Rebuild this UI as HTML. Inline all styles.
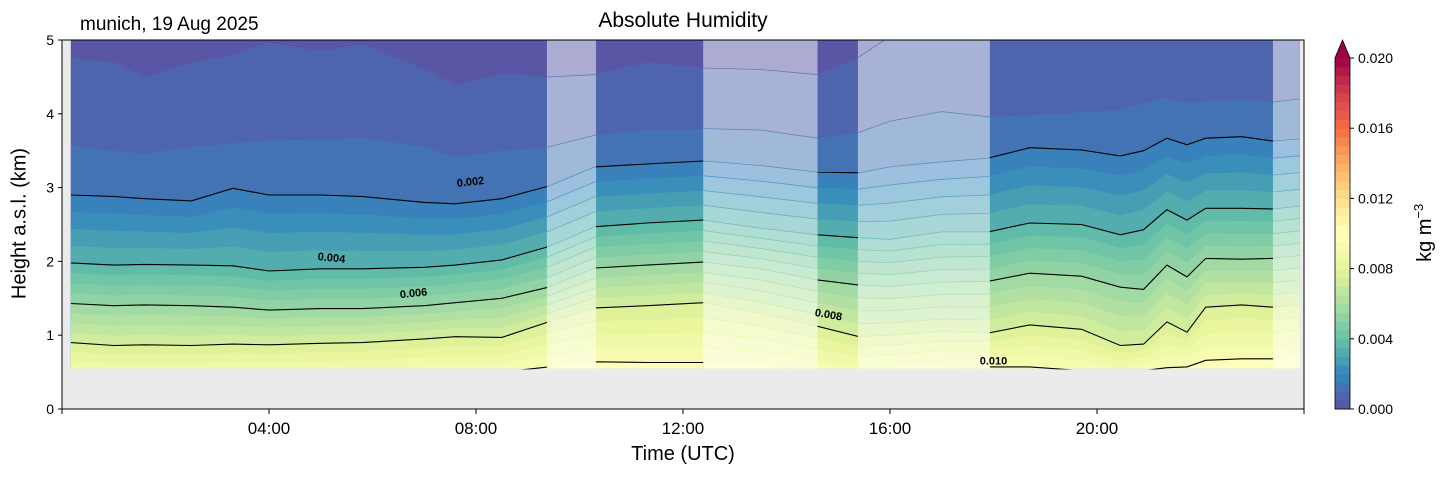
<!DOCTYPE html>
<html><head><meta charset="utf-8"><style>
body{margin:0;background:#fff;font-family:"Liberation Sans",sans-serif;}
svg text{font-family:"Liberation Sans",sans-serif;}
</style></head><body>
<svg id="c" width="1454" height="478" xmlns="http://www.w3.org/2000/svg"></svg>
<script>
const times=[0.17,1,1.6,2.5,3.3,4,5,5.8,7,7.6,8.5,9.4,10.3,11.3,12.4,13.5,14.6,15.4,16,17,17.9,18.7,19.7,20.45,20.9,21.35,21.74,22.1,22.8,23.4,23.92];
const h0005=[4.75,4.7,4.5,4.7,4.8,4.97,4.85,4.95,4.6,4.39,4.55,4.5,4.53,4.7,4.62,4.6,4.53,4.77,5.05,5.2,5.2,5.2,5.2,5.2,5.2,5.2,5.2,5.2,5.2,5.2,5.2];
const h0010=[3.57,3.5,3.46,3.55,3.6,3.64,3.65,3.67,3.55,3.41,3.5,3.55,3.71,3.78,3.8,3.78,3.67,3.75,3.9,4.03,3.96,3.98,4.02,4.05,4.15,4.21,4.15,4.17,4.2,4.16,4.2];
const h0015=[2.9,2.88,2.85,2.82,2.99,2.9,2.9,2.88,2.8,2.78,2.85,3.02,3.28,3.32,3.36,3.3,3.21,3.2,3.28,3.35,3.4,3.54,3.51,3.43,3.5,3.67,3.58,3.67,3.69,3.63,3.66];
const h0035=[1.98,1.95,1.96,1.95,1.94,1.87,1.9,1.9,1.92,1.95,2.02,2.2,2.47,2.52,2.56,2.45,2.36,2.32,2.3,2.4,2.4,2.52,2.5,2.36,2.43,2.7,2.56,2.72,2.72,2.71,2.75];
const h0055=[1.43,1.4,1.41,1.4,1.38,1.34,1.36,1.36,1.4,1.44,1.5,1.65,1.91,1.95,1.99,1.9,1.75,1.68,1.66,1.72,1.73,1.84,1.8,1.65,1.62,1.95,1.79,2.04,2.03,2.04,2.08];
const h0075=[0.9,0.86,0.87,0.86,0.88,0.87,0.89,0.9,0.95,0.98,0.97,1.18,1.37,1.4,1.44,1.3,1.12,0.98,1.0,1.05,1.03,1.14,1.08,0.86,0.88,1.18,1.04,1.38,1.41,1.38,1.42];
const h0095=[0.4,0.38,0.38,0.38,0.4,0.4,0.4,0.42,0.45,0.47,0.5,0.57,0.64,0.63,0.63,0.6,0.5,0.45,0.47,0.53,0.57,0.57,0.52,0.45,0.52,0.56,0.57,0.66,0.68,0.68,0.72];
const yTicks=[0,1,2,3,4,5];
const xTicks=[4,8,12,16,20];
const xTickLabels=["04:00","08:00","12:00","16:00","20:00"];
const cbTicks=[0,0.004,0.008,0.012,0.016,0.020];
const masks=[[9.37,10.32],[12.39,14.6],[15.38,17.93],[23.4,23.92]];
const clearSegs=[[0.17,9.37],[10.32,12.39],[14.6,15.38],[17.93,23.4]];
const lineLabels=[["0.002",7.9,3.03,-6],["0.004",5.2,2.0,6],["0.006",6.8,1.52,-6],["0.008",14.8,1.23,10],["0.010",18.0,0.6,0]];

const NS="http://www.w3.org/2000/svg";
const svg=document.getElementById('c');
const X0=62,X1=1304,Y0=409,Y1=40;
const xs=t=>X0+(X1-X0)*t/24;
const ys=h=>Y0-(Y0-Y1)*h/5;
const BOT=0.55;
function el(tag,attrs,parent){const e=document.createElementNS(NS,tag);for(const k in attrs)e.setAttribute(k,attrs[k]);(parent||svg).appendChild(e);return e;}
const anchors=["#5e4fa2","#3288bd","#66c2a5","#abdda4","#e6f598","#ffffbf","#fee08b","#fdae61","#f46d43","#d53e4f","#9e0142"];
function hex(c){return [1,3,5].map(i=>parseInt(c.substr(i,2),16));}
function cmap(v){v=Math.max(0,Math.min(1,v));const p=v*10,i=Math.min(9,Math.floor(p)),f=p-i;const a=hex(anchors[i]),b=hex(anchors[i+1]);return "rgb("+a.map((x,j)=>Math.round(x+(b[j]-x)*f)).join(",")+")";}
const key={1:h0005,2:h0010,3:h0015,7:h0035,11:h0055,15:h0075,19:h0095};
function H(k,i){
  if(key[k])return key[k][i];
  const ks=[1,2,3,7,11,15,19];
  if(k>19){return h0095[i]-(k-19)*(h0075[i]-h0095[i])/4;}
  for(let j=0;j<ks.length-1;j++){if(k>ks[j]&&k<ks[j+1]){const f=(k-ks[j])/(ks[j+1]-ks[j]);return key[ks[j]][i]+(key[ks[j+1]][i]-key[ks[j]][i])*f;}}
}
const defs=el('defs',{});
const cp=el('clipPath',{id:'dataclip'},defs);
el('rect',{x:xs(times[0]),y:Y1,width:xs(times[times.length-1])-xs(times[0]),height:ys(BOT)-Y1},cp);
const cpl=el('clipPath',{id:'lineclip'},defs);
clearSegs.forEach(s=>el('rect',{x:xs(s[0]),y:Y1,width:xs(s[1])-xs(s[0]),height:ys(BOT)-Y1+1},cpl));
const cpm=el('clipPath',{id:'maskclip'},defs);
masks.forEach(s=>el('rect',{x:xs(s[0]),y:Y1,width:xs(s[1])-xs(s[0]),height:ys(BOT)-Y1},cpm));

const bg=el('rect',{x:X0,y:Y1,width:X1-X0,height:Y0-Y1,fill:'#ebebeb'});

const g=el('g',{'clip-path':'url(#dataclip)'});

el('rect',{x:X0,y:Y1,width:X1-X0,height:Y0-Y1,fill:cmap(0.0125)},g);
function pathFor(k){let d="";times.forEach((t,i)=>{d+=(i?"L":"M")+xs(t).toFixed(1)+","+ys(H(k,i)).toFixed(1);});return d;}
for(let k=1;k<=24;k++){
  const d=pathFor(k)+"L"+xs(times[times.length-1])+","+Y0+"L"+xs(times[0])+","+Y0+"Z";
  const p=el('path',{d:d,fill:cmap((k*0.0005+0.00025)/0.02)},g);
  
}
const mg=el('g',{'clip-path':'url(#maskclip)'});

el('rect',{x:X0,y:Y1,width:X1-X0,height:Y0-Y1,fill:'rgba(255,255,255,0.5)'},mg);
for(let k=1;k<=22;k++){el('path',{d:pathFor(k),fill:'none',stroke:cmap((k*0.0005)/0.02),'stroke-width':0.8,opacity:0.7},mg);}
const lg=el('g',{'clip-path':'url(#lineclip)'});

[3,7,11,15,19].forEach(k=>{const p=el('path',{d:pathFor(k),fill:'none',stroke:'#000','stroke-width':1.1},lg);});
lineLabels.forEach(l=>{const x=xs(l[1]),y=ys(l[2]);const t=el('text',{x:x,y:y,'font-size':11,'font-weight':'bold','text-anchor':'middle',transform:`rotate(${l[3]} ${x} ${y})`});t.textContent=l[0];});
el('rect',{x:X0,y:Y1,width:X1-X0,height:Y0-Y1,fill:'none',stroke:'#000','stroke-width':1});
yTicks.forEach(v=>{el('line',{x1:X0-4,x2:X0,y1:ys(v),y2:ys(v),stroke:'#000'});const t=el('text',{x:X0-8,y:ys(v)+5,'font-size':14,'text-anchor':'end'});t.textContent=v;});
[0].concat(xTicks,[24]).forEach(v=>el('line',{x1:xs(v),x2:xs(v),y1:Y0,y2:Y0+5,stroke:'#000'}));
xTicks.forEach((v,i)=>{const t=el('text',{x:xs(v),y:Y0+25,'font-size':17,'text-anchor':'middle'});t.textContent=xTickLabels[i];});
const CB0=409,CB1=58,CX=1335,CW=15;
const cb=el('g',{});
for(let i=0;i<40;i++){const y0=CB0-(CB0-CB1)*(i+1)/40;el('rect',{x:CX,y:y0,width:CW,height:(CB0-CB1)/40+0.5,fill:cmap((i+0.5)/40)},cb);}
el('path',{d:`M${CX},${CB1}L${CX+CW/2},40L${CX+CW},${CB1}Z`,fill:'#9e0142'},cb);
el('path',{d:`M${CX},${CB0}L${CX},${CB1}L${CX+CW/2},40L${CX+CW},${CB1}L${CX+CW},${CB0}Z`,fill:'none',stroke:'#000','stroke-width':0.8},cb);
cbTicks.forEach(v=>{const y=CB0-(CB0-CB1)*v/0.02;el('line',{x1:CX+CW,x2:CX+CW+4,y1:y,y2:y,stroke:'#000'},cb);const t=el('text',{x:CX+CW+8,y:y+5,'font-size':14},cb);t.textContent=v.toFixed(3);});
</script>
<div style="position:absolute;left:0;top:0;width:1454px;height:478px;pointer-events:none">
<div style="position:absolute;left:483px;top:9px;width:400px;text-align:center;font-size:21px">Absolute Humidity</div>
<div style="position:absolute;left:80px;top:14px;font-size:19px">munich, 19 Aug 2025</div>
<div style="position:absolute;left:483px;top:443px;width:400px;text-align:center;font-size:20px">Time (UTC)</div>
<div style="position:absolute;left:-80px;top:212px;width:200px;text-align:center;font-size:20px;transform:rotate(-90deg)">Height a.s.l. (km)</div>
<div style="position:absolute;left:1334px;top:220px;width:180px;text-align:center;font-size:20px;transform:rotate(-90deg)">kg m<sup style="font-size:13px">−3</sup></div>
</div>
</body></html>
